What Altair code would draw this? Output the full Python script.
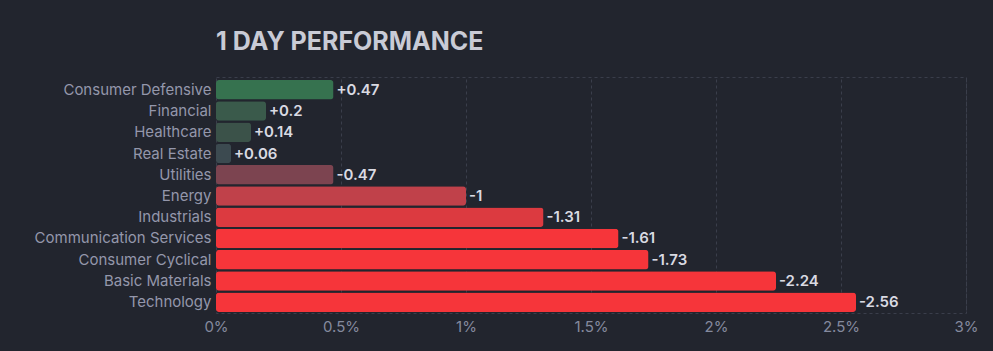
import altair as alt
import pandas as pd

sectors = ["Consumer Defensive", "Financial", "Healthcare", "Real Estate", "Utilities",
           "Energy", "Industrials", "Communication Services", "Consumer Cyclical",
           "Basic Materials", "Technology"]
values = [0.47, 0.2, 0.14, 0.06, -0.47, -1, -1.31, -1.61, -1.73, -2.24, -2.56]
bar_colors = ["#36724f", "#3a5a4b", "#3b5249", "#3c4a50", "#7c4450", "#c0414a",
              "#dc3a40", "#f6353a", "#f6353a", "#f6353a", "#f6353a"]

df = pd.DataFrame({"sector": sectors, "value": values})
df["mag"] = df["value"].abs()
df["label"] = [f"{v:+g}" for v in values]

BG = "#22252e"
FONT = "Inter"

y = alt.Y("sector:N", sort=sectors, title=None,
          scale=alt.Scale(paddingInner=0.08, paddingOuter=0, range=[3, 235]),
          axis=alt.Axis(labelColor="#9497ab", labelFontSize=15, labelFont=FONT,
                        ticks=False, domain=False, labelPadding=5, grid=False))
x = alt.X("mag:Q", title=None,
          scale=alt.Scale(domain=[0, 3], nice=False),
          axis=alt.Axis(values=[0, 0.5, 1, 1.5, 2, 2.5, 3],
                        labelExpr="datum.value + '%'", labelFlush=False,
                        labelColor="#858a9e", labelFontSize=15, labelFont=FONT,
                        ticks=False, domain=False, labelPadding=6,
                        grid=True, gridColor="#3a3e4b", gridDash=[3, 3]))

bars = alt.Chart(df).mark_bar(cornerRadius=3).encode(
    x=x, y=y,
    color=alt.Color("sector:N", scale=alt.Scale(domain=sectors, range=bar_colors), legend=None),
)
texts = alt.Chart(df).mark_text(align="left", baseline="middle", dx=3, fontSize=15,
                                fontWeight=600, font=FONT, color="#d9dae2").encode(
    x="mag:Q", y=alt.Y("sector:N", sort=sectors), text="label:N")

chart = (bars + texts).properties(
    width=750, height=236,
    background=BG,
    autosize=alt.AutoSizeParams(type="none"),
    padding={"left": 216, "top": 77, "right": 27, "bottom": 38},
    title=alt.TitleParams("1 DAY PERFORMANCE", anchor="start", frame="group",
                          font=FONT, fontSize=25, fontWeight="bold",
                          color="#c9cbd6", offset=22),
).configure_view(stroke="#3a3e4b", strokeDash=[3, 3], strokeWidth=1)

chart.save("out.html", embed_options={"renderer": "svg", "actions": False})
